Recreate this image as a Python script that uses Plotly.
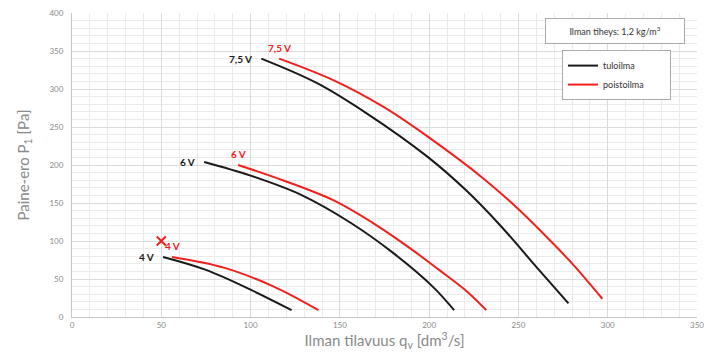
import plotly.graph_objects as go

# ---- data ----
voltages = ["4 V", "6 V", "7,5 V"]

supply_q = {
    "4 V": [51, 75, 100, 123],
    "6 V": [74, 100, 128, 156, 180, 202, 214],
    "7,5 V": [106, 137, 165, 199, 221, 240, 260, 278],
}
supply_p = {
    "4 V": [79, 62, 36, 9],
    "6 V": [204, 186, 161, 124, 84, 40, 9],
    "7,5 V": [340, 308, 268, 211, 166, 120, 66, 18],
}
exhaust_q = {
    "4 V": [56, 85, 113, 138],
    "6 V": [93, 118, 146, 171, 189, 205, 221, 232],
    "7,5 V": [116, 146, 174, 200, 230, 249, 268, 281, 297],
}
exhaust_p = {
    "4 V": [79, 65, 40, 9],
    "6 V": [200, 180, 154, 120, 91, 63, 34, 9],
    "7,5 V": [340, 312, 277, 236, 183, 144, 100, 68, 24],
}
marker_q = [50]
marker_p = [100]

x_ticks = [0, 50, 100, 150, 200, 250, 300, 350]
y_ticks = [0, 50, 100, 150, 200, 250, 300, 350, 400]

BLACK = "#1a1a1a"
RED = "#f0201c"
GRAY = "#8a8a8a"
FONT = "Lato"
PAD = "&nbsp;" * 9

fig = go.Figure()

for i, v in enumerate(voltages):
    fig.add_trace(go.Scatter(
        x=supply_q[v], y=supply_p[v], mode="lines",
        line=dict(color=BLACK, width=2, shape="spline", smoothing=1),
        name="tuloilma" + PAD, legendgroup="tulo", showlegend=(i == 0),
    ))
for i, v in enumerate(voltages):
    fig.add_trace(go.Scatter(
        x=exhaust_q[v], y=exhaust_p[v], mode="lines",
        line=dict(color=RED, width=2, shape="spline", smoothing=1),
        name="poistoilma" + PAD, legendgroup="poisto", showlegend=(i == 0),
    ))

fig.add_trace(go.Scatter(
    x=marker_q, y=marker_p, mode="markers",
    marker=dict(symbol="x-thin", size=9, line=dict(color=RED, width=2)),
    showlegend=False, hoverinfo="skip",
))

# curve labels
for v in voltages:
    fig.add_annotation(
        x=supply_q[v][0], y=supply_p[v][0], text="<b>%s</b>" % v,
        showarrow=False, xanchor="right", yanchor="middle", xshift=-7,
        font=dict(family=FONT, size=10, color=BLACK),
    )
    fig.add_annotation(
        x=exhaust_q[v][0], y=exhaust_p[v][0], text="<b>%s</b>" % v,
        showarrow=False, xanchor="center", yanchor="bottom", yshift=3,
        font=dict(family=FONT, size=10, color=RED),
    )

# density box
fig.add_annotation(
    xref="paper", yref="paper", x=0.981, y=0.984, xanchor="right", yanchor="top",
    text="Ilman tiheys: 1,2 kg/m<sup>3</sup>", showarrow=False,
    font=dict(family=FONT, size=9, color="#333333"),
    bordercolor="#aaaaaa", borderwidth=1, borderpad=4, bgcolor="white",
    width=130, height=16,
)

# page has an 8px body margin, so the figure is sized to fit the window
fig.update_layout(
    width=713, height=354,
    margin=dict(l=64, r=24, t=5, b=45, autoexpand=False),
    paper_bgcolor="white", plot_bgcolor="white",
    font=dict(family=FONT, color=GRAY),
    legend=dict(
        x=0.784, y=0.878, xanchor="left", yanchor="top",
        bgcolor="white", bordercolor="#aaaaaa", borderwidth=1,
        font=dict(family=FONT, size=9, color="#333333"),
        tracegroupgap=0, itemwidth=30,
    ),
    xaxis=dict(
        range=[0, 350], tickvals=x_ticks, ticktext=[str(t) for t in x_ticks],
        showgrid=True, gridcolor="#dcdcdc", gridwidth=1,
        minor=dict(dtick=10, showgrid=True, gridcolor="#ebebeb", gridwidth=1),
        zeroline=False, showline=True, linecolor="#c8c8c8", linewidth=1,
        ticks="", tickfont=dict(family=FONT, size=8, color=GRAY),
        automargin=False, ticklabeloverflow="allow",
        title=dict(text="Ilman tilavuus q<sub>v</sub> [dm<sup>3</sup>/s]",
                   font=dict(family=FONT, size=15, color=GRAY), standoff=6),
    ),
    yaxis=dict(
        range=[0, 400], tickvals=y_ticks, ticktext=[str(t) for t in y_ticks],
        showgrid=True, gridcolor="#dcdcdc", gridwidth=1,
        minor=dict(dtick=10, showgrid=True, gridcolor="#ebebeb", gridwidth=1),
        zeroline=False, showline=True, linecolor="#c8c8c8", linewidth=1,
        ticks="", tickfont=dict(family=FONT, size=8, color=GRAY),
        ticklabelstandoff=6, automargin=False, ticklabeloverflow="allow",
        title=dict(text="Paine-ero P<sub>1</sub> [Pa]",
                   font=dict(family=FONT, size=15, color=GRAY), standoff=16),
    ),
)

fig.write_html("out.html")
